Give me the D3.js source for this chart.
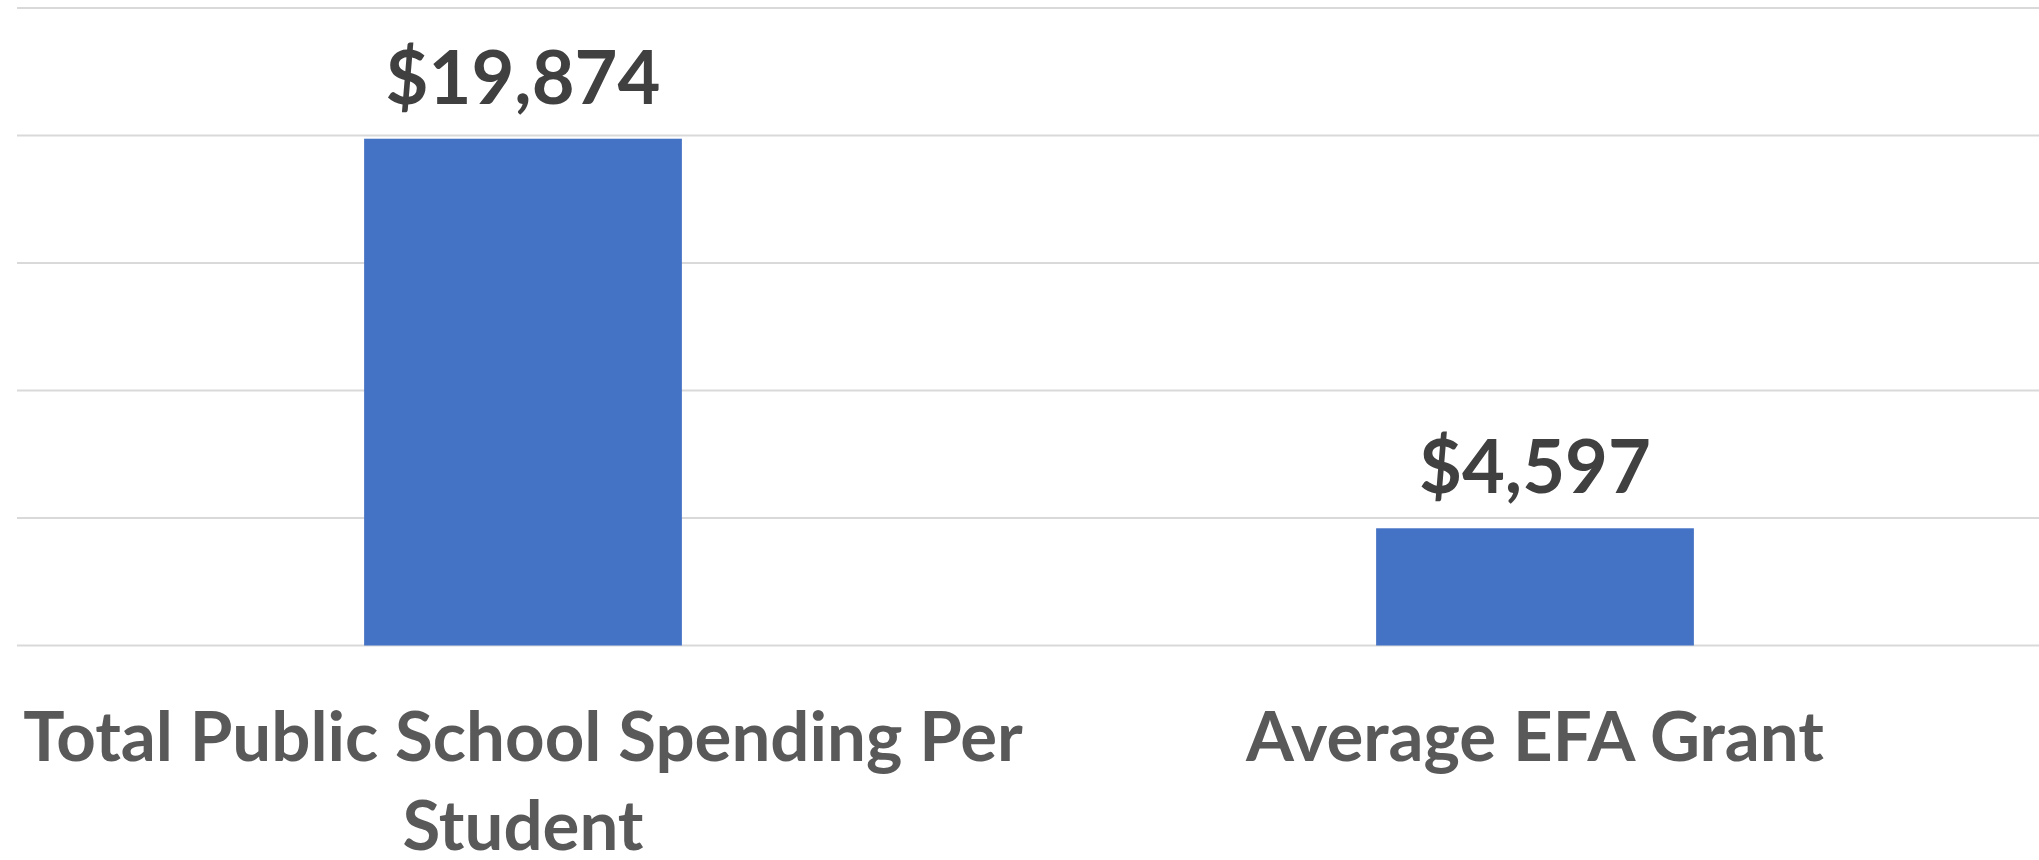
<!DOCTYPE html>
<html>
<head>
<meta charset="utf-8">
<script src="https://cdn.jsdelivr.net/npm/d3@7"></script>
<style>
  html, body { margin: 0; padding: 0; background: #fff; }
  svg { display: block; }
  text { font-family: Lato, "Open Sans", sans-serif; font-weight: 700; }
</style>
</head>
<body>
<div class="container"></div>
<script>
// chart data
let categories = ['Total Public School Spending Per Student', 'Average EFA Grant'];
let labelLines = [['Total Public School Spending Per', 'Student'], ['Average EFA Grant']];
let values = [19874, 4597];
let yTicks = [0, 5000, 10000, 15000, 20000, 25000];

let width = 2039,
		height = 860,
		margin = { top: 8, right: -2, bottom: 214.5, left: 17 };

let svg = d3.select('.container')
						.append('svg')
						.attr('width', width)
						.attr('height', height);

let xScale = d3.scaleBand()
								.domain(categories)
								.range([margin.left, width - margin.right])
								.paddingInner(0.686)
								.paddingOuter(0.343);

let yScale = d3.scaleLinear()
								.domain([0, 25000])
								.range([height - margin.bottom, margin.top]);

// gridlines
svg.append('g')
	.selectAll('line')
	.data(yTicks)
	.enter()
	.append('line')
	.attr('x1', margin.left)
	.attr('x2', width)
	.attr('y1', d => yScale(d))
	.attr('y2', d => yScale(d))
	.attr('stroke', '#d9d9d9')
	.attr('stroke-width', 2);

let data = categories.map((c, i) => ({ cat: c, value: values[i], lines: labelLines[i] }));

svg.append('g')
	.selectAll('rect')
	.data(data)
	.enter()
	.append('rect')
	.attr('x', d => xScale(d.cat))
	.attr('y', d => yScale(d.value))
	.attr('width', xScale.bandwidth())
	.attr('height', d => yScale(0) - yScale(d.value))
	.attr('fill', '#4472c4');

// value labels
svg.append('g')
	.selectAll('text')
	.data(data)
	.enter()
	.append('text')
	.attr('x', d => xScale(d.cat) + xScale.bandwidth()/2)
	.attr('y', d => yScale(d.value) - 35)
	.style('text-anchor', 'middle')
	.style('font-size', '74px')
	.attr('fill', '#404040')
	.text(d => d3.format('$,')(d.value));

// category labels
let catLabels = svg.append('g')
	.selectAll('text')
	.data(data)
	.enter()
	.append('text')
	.attr('x', d => xScale(d.cat) + xScale.bandwidth()/2)
	.attr('y', yScale(0) + 115.5)
	.style('text-anchor', 'middle')
	.style('font-size', '69px')
	.attr('fill', '#595959');

catLabels.selectAll('tspan')
	.data(d => d.lines.map(l => ({ l: l, x: xScale(d.cat) + xScale.bandwidth()/2 })))
	.enter()
	.append('tspan')
	.attr('x', d => d.x)
	.attr('dy', (d, i) => i === 0 ? 0 : 89)
	.text(d => d.l);
</script>
</body>
</html>
